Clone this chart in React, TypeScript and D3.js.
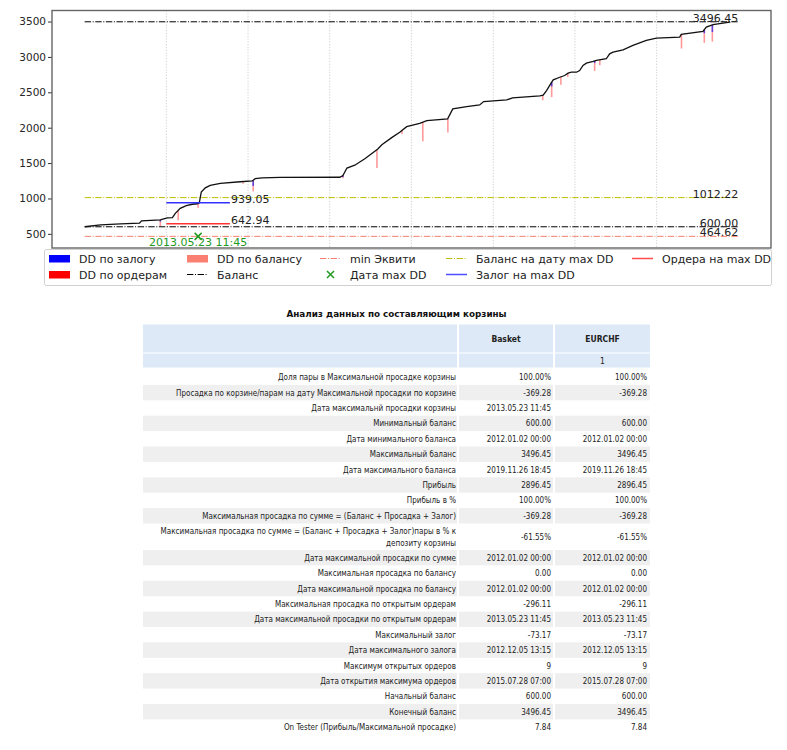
import React, { useEffect, useRef } from 'react';
import * as d3 from 'd3';

const parseDate = d3.timeParse('%Y.%m.%d');

// equity curve
const curveDates = [
  '2012.01.02', '2012.03.13', '2012.06.10', '2012.09.03', '2012.09.12', '2012.12.05',
  '2013.01.01', '2013.01.05', '2013.01.28', '2013.02.10', '2013.03.04', '2013.03.31',
  '2013.04.27', '2013.05.19', '2013.05.28', '2013.06.06', '2013.06.24', '2013.07.16',
  '2013.08.30', '2013.11.27', '2014.01.20', '2014.02.02', '2014.03.05', '2014.05.25',
  '2015.02.15', '2015.03.01', '2015.03.19', '2015.04.23', '2015.06.07', '2015.08.04',
  '2015.08.22', '2015.10.05', '2015.11.10', '2015.12.11', '2016.02.07', '2016.03.10',
  '2016.06.11', '2016.07.04', '2016.09.04', '2016.11.01', '2016.11.19', '2017.03.02',
  '2017.03.28', '2017.07.28', '2017.08.12', '2017.08.27', '2017.09.19', '2017.09.26',
  '2017.10.25', '2017.11.16', '2017.12.01', '2017.12.16', '2018.01.08', '2018.01.22',
  '2018.02.06', '2018.02.21', '2018.03.23', '2018.04.07', '2018.05.21', '2018.06.05',
  '2018.06.20', '2018.08.04', '2018.09.17', '2018.11.16', '2018.12.31', '2019.04.14',
  '2019.04.21', '2019.07.27', '2019.08.11', '2019.09.10', '2019.11.23', '2019.11.26',
];
const curveValues = [
  600, 627, 640, 650, 684, 698,
  722, 727, 730, 790, 860, 900,
  918, 925, 935, 1090, 1150, 1185,
  1212, 1236, 1248, 1280, 1292, 1298,
  1300, 1325, 1430, 1470, 1560, 1700,
  1760, 1860, 1935, 2015, 2060, 2100,
  2125, 2265, 2298, 2322, 2370, 2393,
  2421, 2450, 2460, 2525, 2643, 2676,
  2713, 2737, 2770, 2784, 2784, 2808,
  2879, 2912, 2936, 2950, 2974, 3044,
  3067, 3101, 3162, 3233, 3265, 3280,
  3318, 3360, 3421, 3455, 3492, 3496.45,
];

// drawdown spikes: date, drawdown by orders, drawdown by margin
const ddDates = [
  '2012.12.05', '2013.02.23', '2013.05.23', '2013.12.10', '2014.01.24', '2015.03.01',
  '2015.07.31', '2015.11.20', '2016.02.21', '2016.06.12', '2017.08.10', '2017.09.19',
  '2017.10.30', '2017.11.30', '2018.03.30', '2018.04.22', '2019.04.22', '2019.08.02',
  '2019.09.07',
];
const ddOrders = [-90, -140, -60, -30, -160, -40, -260, -50, -270, -200, -70, -210, -110, -50, -140, -75, -200, -185, -235];
const ddMargin = [-25, 0, 0, 0, -80, -20, 0, 0, 0, 0, 0, -60, 0, 0, -30, 0, 0, -50, -100];

const yTicks = [500, 1000, 1500, 2000, 2500, 3000, 3500];
const yLimits = [300, 3656];
const gridDates = ['2013.01.01', '2014.01.01', '2015.01.01', '2016.01.01', '2017.01.01', '2018.01.01', '2019.01.01'];
const levelRange = ['2012.01.02', '2020.01.01'];

const maxBalance = 3496.45;
const startBalance = 600.0;
const minEquity = 464.62;
const balanceAtMaxDD = 1012.22;
const marginAtMaxDD = 939.05;
const ordersAtMaxDD = 642.94;
const maxDDDate = '2013.05.23';
const maxDDLabel = '2013.05.23 11:45';
const maxDDSpan = ['2013.01.01', '2013.10.12'];

const legendLabels = [
  'DD по залогу', 'DD по ордерам', 'DD по балансу', 'Баланс', 'min Эквити',
  'Дата max DD', 'Баланс на дату max DD', 'Залог на max DD', 'Ордера на max DD',
];

// table
const tableTitle = 'Анализ данных по составляющим корзины';
const columnHeaders = ['Basket', 'EURCHF'];
const subHeaders = ['', '1'];
const rowLabels = [
  'Доля пары в Максимальной просадке корзины',
  'Просадка по корзине/парам на дату Максимальной просадки по корзине',
  'Дата максимальнй просадки корзины',
  'Минимальный баланс',
  'Дата минимального баланса',
  'Максимальный баланс',
  'Дата максимального баланса',
  'Прибыль',
  'Прибыль в %',
  'Максимальная просадка по сумме = (Баланс + Просадка + Залог)',
  'Максимальная просадка по сумме = (Баланс + Просадка + Залог)пары в % к\nдепозиту корзины',
  'Дата максимальной просадки по сумме',
  'Максимальная просадка по балансу',
  'Дата максимальной просадка по балансу',
  'Максимальная просадка по открытым ордерам',
  'Дата максимальной просадки по открытым ордерам',
  'Максимальный залог',
  'Дата максимального залога',
  'Максимум открытых ордеров',
  'Дата открытия максимума ордеров',
  'Начальный баланс',
  'Конечный баланс',
  'On Tester (Прибыль/Максимальной просадке)',
];
const basketValues = [
  '100.00%', '-369.28', '2013.05.23 11:45', '600.00', '2012.01.02 00:00', '3496.45',
  '2019.11.26 18:45', '2896.45', '100.00%', '-369.28', '-61.55%', '2012.01.02 00:00',
  '0.00', '2012.01.02 00:00', '-296.11', '2013.05.23 11:45', '-73.17', '2012.12.05 13:15',
  '9', '2015.07.28 07:00', '600.00', '3496.45', '7.84',
];
const eurchfValues = [
  '100.00%', '-369.28', '', '600.00', '2012.01.02 00:00', '3496.45',
  '2019.11.26 18:45', '2896.45', '100.00%', '-369.28', '-61.55%', '2012.01.02 00:00',
  '0.00', '2012.01.02 00:00', '-296.11', '2013.05.23 11:45', '-73.17', '2012.12.05 13:15',
  '9', '2015.07.28 07:00', '600.00', '3496.45', '7.84',
];

const W = 787;
const H = 750;
const plot = { left: 52, right: 771, top: 10.5, bottom: 248 };
const DASHDOT = '6.4,1.6,1,1.6';
const CHART_FONT = "'DejaVu Sans', sans-serif";
const TABLE_FONT = "'DejaVu Sans Condensed', 'Liberation Sans', sans-serif";

const App: React.FC = () => {
  const svgRef = useRef<SVGSVGElement>(null);

  useEffect(() => {
    if (!svgRef.current) return;
    const svg = d3.select(svgRef.current);
    svg.selectAll('*').remove();

    const dates = curveDates.map(d => parseDate(d) as Date);
    const from = parseDate(levelRange[0]) as Date;
    const to = parseDate(levelRange[1]) as Date;
    const pad = (+to - +from) * 0.05;

    const x = d3.scaleTime()
      .domain([new Date(+from - pad), new Date(+to + pad)])
      .range([plot.left, plot.right]);
    const y = d3.scaleLinear().domain(yLimits).range([plot.bottom, plot.top]);

    const bisect = d3.bisector((d: Date) => d).left;
    const equityAt = (d: Date) => {
      const i = bisect(dates, d);
      if (i <= 0) return curveValues[0];
      if (i >= dates.length) return curveValues[curveValues.length - 1];
      const t = (+d - +dates[i - 1]) / (+dates[i] - +dates[i - 1]);
      return curveValues[i - 1] + t * (curveValues[i] - curveValues[i - 1]);
    };

    const chart = svg.append('g').style('font-family', CHART_FONT);

    // vertical grid
    chart.selectAll('.grid')
      .data(gridDates)
      .join('line')
      .attr('x1', d => x(parseDate(d) as Date))
      .attr('x2', d => x(parseDate(d) as Date))
      .attr('y1', plot.top)
      .attr('y2', plot.bottom)
      .attr('stroke', '#c4c4c4')
      .attr('stroke-width', 0.8)
      .attr('stroke-dasharray', '1.2,1.6');

    // horizontal levels
    const levels = [
      { v: maxBalance, color: '#000' },
      { v: balanceAtMaxDD, color: '#bfbf00' },
      { v: startBalance, color: '#000' },
      { v: minEquity, color: '#fa8072' },
    ];
    chart.selectAll('.level')
      .data(levels)
      .join('line')
      .attr('x1', x(from))
      .attr('x2', x(to))
      .attr('y1', d => y(d.v))
      .attr('y2', d => y(d.v))
      .attr('stroke', d => d.color)
      .attr('stroke-width', 1)
      .attr('stroke-dasharray', DASHDOT);

    // drawdown spikes
    const spikes = ddDates.map((d, i) => {
      const date = parseDate(d) as Date;
      const base = equityAt(date);
      return { date, base, orders: ddOrders[i], margin: ddMargin[i] };
    });
    chart.selectAll('.dd-orders')
      .data(spikes)
      .join('line')
      .attr('x1', d => x(d.date))
      .attr('x2', d => x(d.date))
      .attr('y1', d => y(d.base))
      .attr('y2', d => y(d.base + d.orders))
      .attr('stroke', '#ff0000')
      .attr('stroke-opacity', 0.4)
      .attr('stroke-width', 1.6);
    chart.selectAll('.dd-margin')
      .data(spikes.filter(d => d.margin < 0))
      .join('line')
      .attr('x1', d => x(d.date))
      .attr('x2', d => x(d.date))
      .attr('y1', d => y(d.base))
      .attr('y2', d => y(d.base + d.margin))
      .attr('stroke', '#0000ff')
      .attr('stroke-opacity', 0.6)
      .attr('stroke-width', 1.6);

    // equity curve
    const line = d3.line<number>()
      .x((_, i) => x(dates[i]))
      .y(d => y(d));
    chart.append('path')
      .datum(curveValues)
      .attr('d', line)
      .attr('fill', 'none')
      .attr('stroke', '#111')
      .attr('stroke-width', 1.3);

    // margin / orders at max DD
    const spanFrom = parseDate(maxDDSpan[0]) as Date;
    const spanTo = parseDate(maxDDSpan[1]) as Date;
    const ddLines = [
      { v: marginAtMaxDD, color: '#3333ff' },
      { v: ordersAtMaxDD, color: '#ff3333' },
    ];
    chart.selectAll('.ddline')
      .data(ddLines)
      .join('line')
      .attr('x1', x(spanFrom))
      .attr('x2', x(spanTo))
      .attr('y1', d => y(d.v))
      .attr('y2', d => y(d.v))
      .attr('stroke', d => d.color)
      .attr('stroke-width', 1.5);
    chart.selectAll('.ddlabel')
      .data(ddLines)
      .join('text')
      .attr('x', x(spanTo) + 1)
      .attr('y', d => y(d.v))
      .style('font-size', '11px')
      .attr('fill', '#222')
      .text(d => d.v.toFixed(2));

    // level labels
    chart.selectAll('.levellabel')
      .data(levels)
      .join('text')
      .attr('x', x(to))
      .attr('y', d => y(d.v))
      .attr('text-anchor', 'end')
      .style('font-size', '11px')
      .attr('fill', '#222')
      .text(d => d.v.toFixed(2));

    // max DD marker
    const mx = x(parseDate(maxDDDate) as Date);
    const my = y(minEquity);
    chart.append('path')
      .attr('d', `M${mx - 3.5},${my - 3.5}L${mx + 3.5},${my + 3.5}M${mx - 3.5},${my + 3.5}L${mx + 3.5},${my - 3.5}`)
      .attr('stroke', '#1f9a1f')
      .attr('stroke-width', 1.5);
    chart.append('text')
      .attr('x', mx)
      .attr('y', my + 9.5)
      .attr('text-anchor', 'middle')
      .style('font-size', '11px')
      .attr('fill', '#1f9a1f')
      .text(maxDDLabel);

    // y axis
    const yAxis = chart.append('g')
      .attr('transform', `translate(${plot.left},0)`)
      .call(d3.axisLeft(y).tickValues(yTicks).tickSize(4).tickFormat(d3.format('d')));
    yAxis.select('.domain').remove();
    yAxis.selectAll('line').attr('stroke', '#333');
    yAxis.selectAll('text')
      .style('font-family', CHART_FONT)
      .style('font-size', '10.5px')
      .attr('fill', '#262626')
      .attr('x', -6);

    // spines
    chart.append('rect')
      .attr('x', plot.left)
      .attr('y', plot.top)
      .attr('width', plot.right - plot.left)
      .attr('height', plot.bottom - plot.top)
      .attr('fill', 'none')
      .attr('stroke', '#666')
      .attr('stroke-width', 1.4);

    // legend
    const legend = chart.append('g');
    legend.append('rect')
      .attr('x', 44.5)
      .attr('y', 249.5)
      .attr('width', 727)
      .attr('height', 36)
      .attr('rx', 2)
      .attr('fill', '#fff')
      .attr('stroke', '#d0d0d0');
    const colX = [49, 187, 320, 446, 632];
    const rowY = [258.5, 274.5];
    const kinds = [
      { type: 'patch', color: '#0000ff' },
      { type: 'patch', color: '#ff0000' },
      { type: 'patch', color: '#fa8072' },
      { type: 'dash', color: '#000' },
      { type: 'dash', color: '#fa8072' },
      { type: 'marker', color: '#1f9a1f' },
      { type: 'dash', color: '#bfbf00' },
      { type: 'line', color: '#4d4dff' },
      { type: 'line', color: '#ff4d4d' },
    ];
    legendLabels.forEach((label, i) => {
      const cx = colX[Math.floor(i / 2)];
      const cy = rowY[i % 2];
      const k = kinds[i];
      const g = legend.append('g');
      if (k.type === 'patch') {
        g.append('rect').attr('x', cx).attr('y', cy - 3.5).attr('width', 21).attr('height', 7.5).attr('fill', k.color);
      } else if (k.type === 'marker') {
        const c = cx + 10.5;
        g.append('path')
          .attr('d', `M${c - 3.5},${cy - 3.5}L${c + 3.5},${cy + 3.5}M${c - 3.5},${cy + 3.5}L${c + 3.5},${cy - 3.5}`)
          .attr('stroke', k.color)
          .attr('stroke-width', 1.5);
      } else {
        g.append('line')
          .attr('x1', cx).attr('x2', cx + 21)
          .attr('y1', cy).attr('y2', cy)
          .attr('stroke', k.color)
          .attr('stroke-width', k.type === 'line' ? 1.5 : 1)
          .attr('stroke-dasharray', k.type === 'dash' ? DASHDOT : null);
      }
      g.append('text')
        .attr('x', cx + 30)
        .attr('y', cy + 4)
        .style('font-size', '11px')
        .attr('fill', '#222')
        .text(label);
    });

    // table
    const table = svg.append('g').style('font-family', TABLE_FONT);
    const tx0 = 143, tc1 = 458, tc2 = 554, tx1 = 650;
    const cells = [[tx0, tc1 - 1], [tc1 + 1, tc2 - 1], [tc2 + 1, tx1]];

    table.append('text')
      .attr('x', (tx0 + tx1) / 2)
      .attr('y', 316.5)
      .attr('text-anchor', 'middle')
      .style('font-family', CHART_FONT)
      .style('font-weight', 'bold')
      .style('font-size', '8.8px')
      .attr('fill', '#111')
      .text(tableTitle);

    const headerRows = [
      { top: 324.5, h: 28, texts: columnHeaders, bold: true },
      { top: 353.5, h: 14, texts: subHeaders, bold: false },
    ];
    headerRows.forEach(r => {
      cells.forEach(([a, b]) => {
        table.append('rect').attr('x', a).attr('y', r.top).attr('width', b - a).attr('height', r.h).attr('fill', '#dde9f7');
      });
      r.texts.forEach((t, j) => {
        table.append('text')
          .attr('x', (cells[j + 1][0] + cells[j + 1][1]) / 2)
          .attr('y', r.top + r.h / 2 + 3)
          .attr('text-anchor', 'middle')
          .style('font-size', '8.5px')
          .style('font-weight', r.bold ? 'bold' : 'normal')
          .attr('fill', '#222')
          .text(t);
      });
    });

    let top = 369.5;
    rowLabels.forEach((label, i) => {
      const lines = label.split('\n');
      const h = lines.length > 1 ? 26.5 : 15.4;
      if (i % 2 === 1) {
        cells.forEach(([a, b]) => {
          table.append('rect').attr('x', a).attr('y', top).attr('width', b - a).attr('height', h).attr('fill', '#efefef');
        });
      }
      const mid = top + h / 2;
      lines.forEach((ln, j) => {
        table.append('text')
          .attr('x', tc1 - 2)
          .attr('y', mid + 3 + (j - (lines.length - 1) / 2) * 11.5)
          .attr('text-anchor', 'end')
          .style('font-size', '8px')
          .attr('fill', '#222')
          .text(ln);
      });
      [basketValues[i], eurchfValues[i]].forEach((v, j) => {
        table.append('text')
          .attr('x', (j === 0 ? tc2 : tx1) - 3)
          .attr('y', mid + 3)
          .attr('text-anchor', 'end')
          .style('font-size', '8px')
          .attr('fill', '#222')
          .text(v);
      });
      top += h;
    });
  }, []);

  return (
    <svg
      ref={svgRef}
      width={W}
      height={H}
      style={{ position: 'absolute', left: 0, top: 0, background: '#fff' }}
    />
  );
};

export default App;
